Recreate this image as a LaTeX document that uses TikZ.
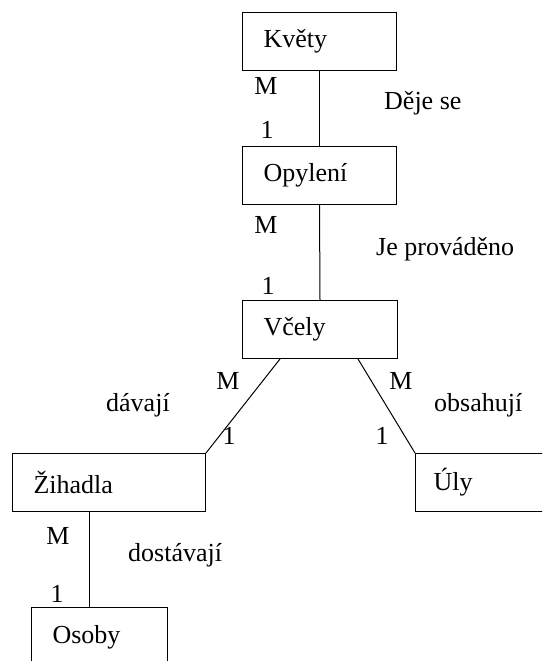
\documentclass[tikz,border=0pt]{standalone}
\usepackage{fontspec}
\setmainfont{Liberation Serif}
\begin{document}
\begin{tikzpicture}[x=1pt,y=-1pt,
  every node/.style={font=\fontsize{26}{30}\selectfont},
  entity/.style={draw,line width=1pt,rectangle,minimum height=58pt,inner xsep=21pt,inner ysep=0pt,align=left,anchor=north west},
  card/.style={inner sep=0pt},
  rel/.style={inner sep=0pt,anchor=west},
  conn/.style={line width=1pt}]
\clip (0,0) rectangle (542,661);
\fill[white] (0,0) rectangle (542,661);
\node[entity,text width=112pt] (kvety) at (242,12) {Květy};
\node[entity,text width=112pt] (opyleni) at (242,146) {Opylení};
\node[entity,text width=113pt] (vcely) at (242,300) {Včely};
\node[entity,text width=151pt] (zihadla) at (12,453) {Žihadla};
\node[entity,text width=118pt,inner xsep=18pt] (uly) at (415,453) {Úly};
\node[entity,text width=94pt,minimum height=60pt] (osoby) at (31,607) {Osoby};
\draw[conn] (kvety.south) -- (opyleni.north);
\draw[conn] (opyleni.south) -- (vcely.north);
\draw[conn] ([xshift=38pt]vcely.south west) -- (zihadla.north east);
\draw[conn] ([xshift=116pt]vcely.south west) -- (uly.north west);
\coordinate (zb) at ([xshift=77pt]zihadla.south west);
\draw[conn] (zb) -- (zb |- osoby.north);
\node[card] (m1) at (266,86) {M};
\node[card] (o1) at (267,130) {1};
\node[rel] (r1) at (384,103) {Děje se};
\node[card] (m2) at (266,225) {M};
\node[card] (o2) at (268,286) {1};
\node[rel] (r2) at (376,249) {Je prováděno};
\node[card] (m3) at (228,381) {M};
\node[rel] (r3) at (106,405) {dávají};
\node[card] (m4) at (401,381) {M};
\node[rel] (r4) at (434,405) {obsahují};
\node[card] (o3) at (229,436) {1};
\node[card] (o4) at (382,436) {1};
\node[card] (m5) at (58,536) {M};
\node[rel] (r5) at (128,555) {dostávají};
\node[card] (o5) at (57,594) {1};
\end{tikzpicture}
\end{document}
